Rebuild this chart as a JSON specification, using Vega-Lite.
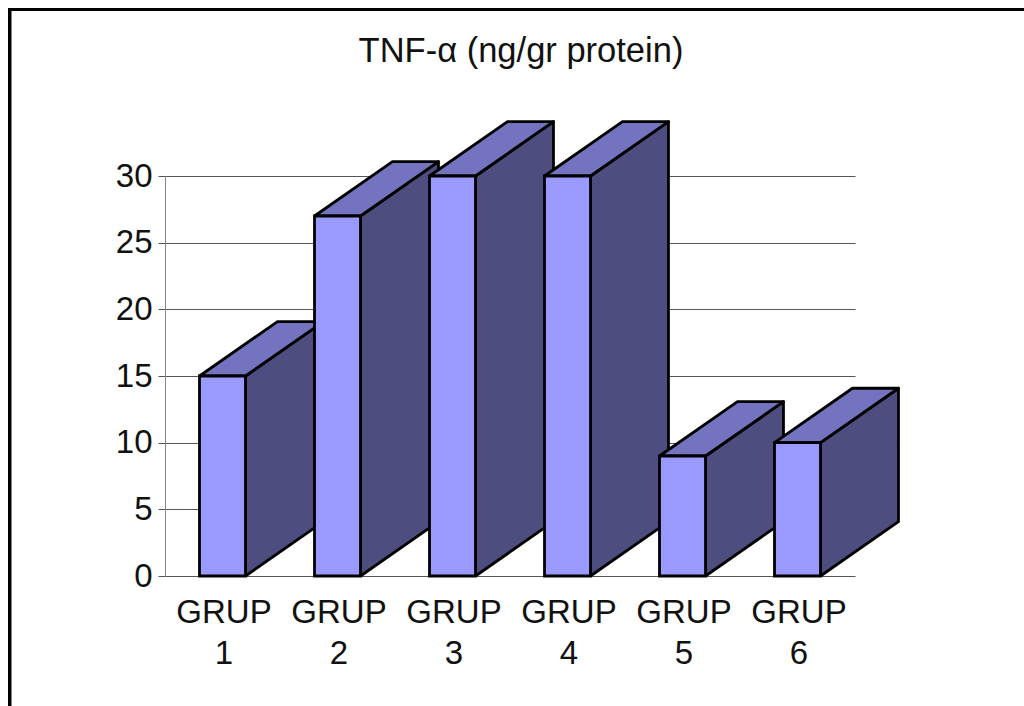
{"$schema":"https://vega.github.io/schema/vega-lite/v6.json","width":690,"height":400,"autosize":{"type":"none"},"padding":{"left":165,"top":176,"right":169,"bottom":130},"background":"white","view":{"stroke":null},"title":{"text":"TNF-α (ng/gr protein)","font":"Liberation Sans","fontSize":34.5,"fontWeight":"normal","color":"#111","anchor":"middle","dx":11,"offset":-62},"data":{"values":[{"group":"GRUP 1","slot":1,"value":15,"corner":[0,1,2,3,4]},{"group":"GRUP 2","slot":2,"value":27,"corner":[0,1,2,3,4]},{"group":"GRUP 3","slot":3,"value":30,"corner":[0,1,2,3,4]},{"group":"GRUP 4","slot":4,"value":30,"corner":[0,1,2,3,4]},{"group":"GRUP 5","slot":5,"value":9,"corner":[0,1,2,3,4]},{"group":"GRUP 6","slot":6,"value":10,"corner":[0,1,2,3,4]}]},"config":{"font":"Liberation Sans"},"transform":[{"flatten":["corner"]},{"calculate":"datum.slot-0.5-0.2","as":"l"},{"calculate":"datum.slot-0.5+0.2","as":"r"},{"calculate":"[datum.r,datum.r,datum.r+0.678,datum.r+0.678,datum.r][datum.corner]","as":"sx"},{"calculate":"[0,datum.value,datum.value+4.08,4.08,0][datum.corner]","as":"sy"},{"calculate":"[datum.l,datum.r,datum.r+0.678,datum.l+0.678,datum.l][datum.corner]","as":"tx"},{"calculate":"[datum.value,datum.value,datum.value+4.08,datum.value+4.08,datum.value][datum.corner]","as":"ty"}],"layer":[{"mark":{"type":"rect","filled":false,"stroke":"#000","strokeWidth":3},"encoding":{"x":{"datum":-1.352,"type":"quantitative","scale":{"domain":[0,6],"nice":false,"zero":false},"axis":{"values":[0.5,1.5,2.5,3.5,4.5,5.5],"title":null,"grid":false,"ticks":false,"domain":false,"labelExpr":"['GRUP', toString(datum.value+0.5)]","labelFont":"Liberation Sans","labelFontSize":33,"labelColor":"#111","labelPadding":20,"labelLineHeight":41,"labelAngle":0,"labelOffset":1,"labelOverlap":false,"labelBound":false,"labelFlush":false}},"x2":{"datum":7.6},"y":{"datum":42.49,"type":"quantitative","scale":{"domain":[0,30],"nice":false,"zero":true},"axis":{"values":[0,5,10,15,20,25,30],"title":null,"grid":true,"gridColor":"#555","gridWidth":1,"gridOpacity":1,"tickColor":"#555","tickSize":7,"tickWidth":1,"domainColor":"#888","domainWidth":1,"labelFont":"Liberation Sans","labelFontSize":33,"labelColor":"#111","labelPadding":6}},"y2":{"datum":-15}}},{"mark":{"type":"line","fill":"#4D4D80","stroke":"#000","strokeWidth":2.8,"strokeJoin":"round"},"encoding":{"x":{"field":"sx","type":"quantitative"},"y":{"field":"sy","type":"quantitative"},"detail":{"field":"group"},"order":{"field":"corner"}}},{"mark":{"type":"line","fill":"#7373BF","stroke":"#000","strokeWidth":2.8,"strokeJoin":"round"},"encoding":{"x":{"field":"tx","type":"quantitative"},"y":{"field":"ty","type":"quantitative"},"detail":{"field":"group"},"order":{"field":"corner"}}},{"transform":[{"filter":"datum.corner==0"}],"mark":{"type":"rect","fill":"#9999FF","stroke":"#000","strokeWidth":2.8},"encoding":{"x":{"field":"l","type":"quantitative"},"x2":{"field":"r"},"y":{"field":"value","type":"quantitative"},"y2":{"datum":0}}}]}
